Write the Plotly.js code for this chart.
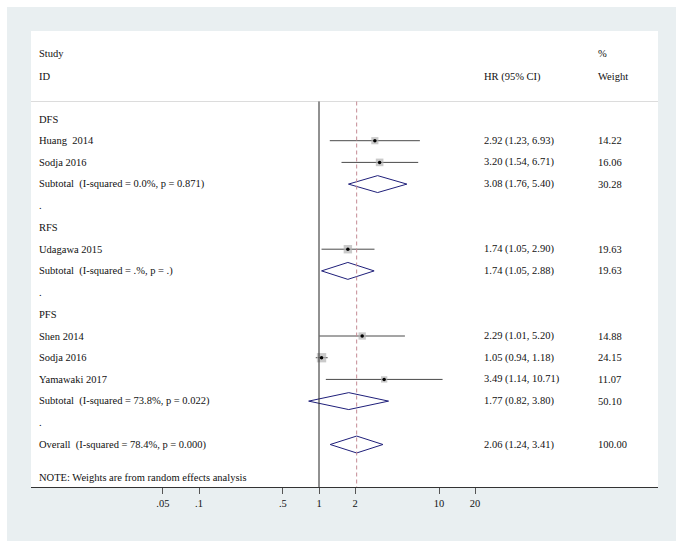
<!DOCTYPE html>
<html>
<head>
<meta charset="utf-8">
<script src="https://cdn.plot.ly/plotly-3.0.1.min.js"></script>
<style>html,body{margin:0;padding:0;background:#fff;}#chart{width:683px;height:548px;}</style>
</head>
<body>
<div id="chart"></div>
<script>
// ---- data ----
var groupNames = ["DFS", "RFS", "PFS"];
var studyNames = ["Huang  2014", "Sodja 2016", "Udagawa 2015", "Shen 2014", "Sodja 2016", "Yamawaki 2017"];
var studyGroup = [0, 0, 1, 2, 2, 2];
var studyHR = [2.92, 3.20, 1.74, 2.29, 1.05, 3.49];
var studyLo = [1.23, 1.54, 1.05, 1.01, 0.94, 1.14];
var studyHi = [6.93, 6.71, 2.90, 5.20, 1.18, 10.71];
var studyWeight = [14.22, 16.06, 19.63, 14.88, 24.15, 11.07];

var subtotalLabels = ["Subtotal  (I-squared = 0.0%, p = 0.871)", "Subtotal  (I-squared = .%, p = .)", "Subtotal  (I-squared = 73.8%, p = 0.022)"];
var subtotalHR = [3.08, 1.74, 1.77];
var subtotalLo = [1.76, 1.05, 0.82];
var subtotalHi = [5.40, 2.88, 3.80];
var subtotalWeight = [30.28, 19.63, 50.10];

var overallLabel = "Overall  (I-squared = 78.4%, p = 0.000)";
var overallHR = 2.06, overallLo = 1.24, overallHi = 3.41, overallWeight = 100.00;

var tickValues = [0.05, 0.1, 0.5, 1, 2, 10, 20];
var tickLabels = [".05", ".1", ".5", "1", "2", "10", "20"];
var noteText = "NOTE: Weights are from random effects analysis";

// ---- build rows ----
var rows = [];
groupNames.forEach(function (g, gi) {
  rows.push({label: g, kind: "head"});
  studyNames.forEach(function (s, si) {
    if (studyGroup[si] === gi) rows.push({label: s, kind: "study", hr: studyHR[si], lo: studyLo[si], hi: studyHi[si], w: studyWeight[si]});
  });
  rows.push({label: subtotalLabels[gi], kind: "sub", hr: subtotalHR[gi], lo: subtotalLo[gi], hi: subtotalHi[gi], w: subtotalWeight[gi]});
  rows.push({label: ".", kind: "dot"});
});
rows.push({label: overallLabel, kind: "sub", hr: overallHR, lo: overallLo, hi: overallHi, w: overallWeight});

var FONT = "Liberation Serif, Times New Roman, serif";
var FS = 10.5;
var TXT = "#111";
var xStudy = 0.0096, xHR = 0.7193, xW = 0.9011;

var annotations = [];
function addText(x, y, t) {
  annotations.push({xref: "paper", yref: "y", x: x, y: y, text: t, showarrow: false, xanchor: "left", yanchor: "middle",
    font: {family: FONT, size: FS, color: TXT}});
}
addText(xStudy, -3, "Study");
addText(xStudy, -1.94, "ID");
addText(xHR, -1.94, "HR (95% CI)");
addText(xW, -3, "%");
addText(xW, -1.94, "Weight");

function fmt(v) { return v.toFixed(2); }

var ciX = [], ciY = [], sqX = [], sqY = [], sqS = [];
var traces = [];
var dH = 0.39;
rows.forEach(function (r, i) {
  addText(xStudy, i, r.label);
  if (r.kind === "study" || r.kind === "sub") {
    addText(xHR, i, fmt(r.hr) + " (" + fmt(r.lo) + ", " + fmt(r.hi) + ")");
    addText(xW, i, fmt(r.w));
  }
  if (r.kind === "study") {
    ciX.push(r.lo, r.hi, null); ciY.push(i, i, null);
    sqX.push(r.hr); sqY.push(i); sqS.push(1.9 * Math.sqrt(r.w));
  }
  if (r.kind === "sub") {
    traces.push({type: "scatter", mode: "lines", x: [r.lo, r.hr, r.hi, r.hr, r.lo], y: [i, i - dH, i, i + dH, i],
      line: {color: "#1f1f7a", width: 1}, hoverinfo: "skip", showlegend: false});
  }
});
addText(xStudy, 16.5, noteText);

var yTop = -4.055, yBot = 16.958, ySep = -0.806;

var data = [
  {type: "scatter", mode: "lines", x: ciX, y: ciY, line: {color: "#4a4a4a", width: 1}, hoverinfo: "skip", showlegend: false},
  {type: "scatter", mode: "markers", x: sqX, y: sqY, marker: {symbol: "square", size: sqS, color: "#b3b3b3", line: {width: 0}}, hoverinfo: "skip", showlegend: false},
  {type: "scatter", mode: "markers", x: sqX, y: sqY, marker: {symbol: "circle", size: 3.5, color: "#000"}, hoverinfo: "skip", showlegend: false}
].concat(traces);

var shapes = [
  {type: "rect", xref: "paper", yref: "paper", x0: -0.0383, x1: 1.0287, y0: -0.1184, y1: 1.0526, fillcolor: "#e9eff1", line: {width: 0}, layer: "below"},
  {type: "rect", xref: "paper", yref: "paper", x0: 0, x1: 1, y0: 0, y1: 1, fillcolor: "#ffffff", line: {width: 0}, layer: "below"},
  {type: "line", xref: "paper", yref: "y", x0: 0, x1: 1, y0: ySep, y1: ySep, line: {color: "#dcdcdc", width: 1}},
  {type: "line", xref: "x", yref: "y", x0: 1, x1: 1, y0: ySep, y1: yBot, line: {color: "#222", width: 1}},
  {type: "line", xref: "x", yref: "y", x0: overallHR, x1: overallHR, y0: ySep, y1: yBot, line: {color: "#c48a94", width: 1, dash: "4px,3px"}}
];

var layout = {
  width: 683, height: 548,
  margin: {l: 31, r: 25, t: 31, b: 61, pad: 0},
  paper_bgcolor: "#ffffff",
  plot_bgcolor: "#ffffff",
  showlegend: false,
  xaxis: {type: "log", range: [-2.4, 2.825], tickvals: tickValues, ticktext: tickLabels, ticks: "outside", ticklen: 6,
    tickcolor: "#555", tickwidth: 1, showgrid: false, zeroline: false, showline: true, linecolor: "#333", linewidth: 1,
    tickfont: {family: FONT, size: FS, color: TXT}, fixedrange: true},
  yaxis: {range: [yBot, yTop], visible: false, showgrid: false, zeroline: false, fixedrange: true},
  shapes: shapes,
  annotations: annotations
};

Plotly.newPlot("chart", data, layout, {staticPlot: true, displayModeBar: false});
</script>
</body>
</html>
